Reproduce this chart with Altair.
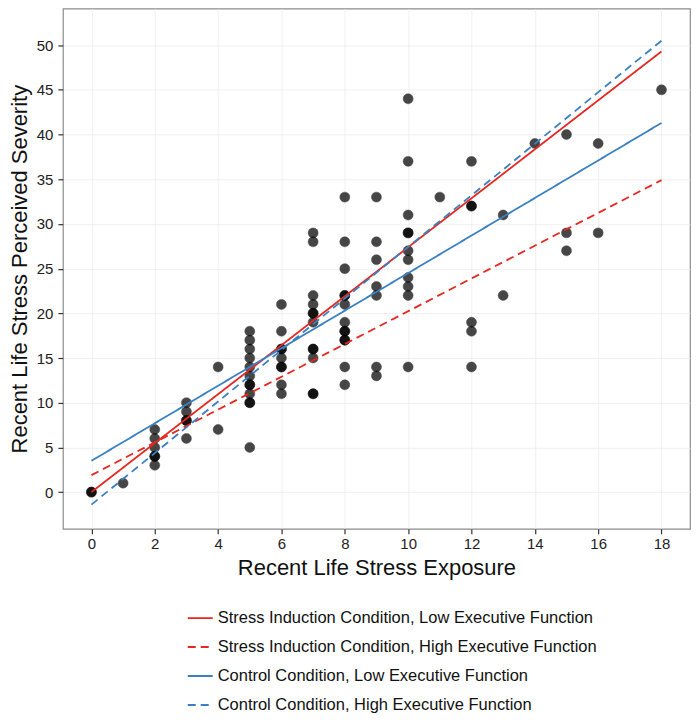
import altair as alt
import pandas as pd

FONT = "Liberation Sans, Arial, Helvetica, sans-serif"

# Scatter data
exposure = [0, 0, 1, 2, 2, 2, 2, 2, 2, 3, 3, 3, 3, 3, 4, 4,
            5, 5, 5, 5, 5, 5, 5, 5, 5, 5, 5, 5,
            6, 6, 6, 6, 6, 6, 6, 6, 6,
            7, 7, 7, 7, 7, 7, 7, 7, 7, 7, 7, 7,
            8, 8, 8, 8, 8, 8, 8, 8, 8, 8, 8, 8, 8,
            9, 9, 9, 9, 9, 9, 9,
            10, 10, 10, 10, 10, 10, 10, 10, 10, 10, 10,
            11, 12, 12, 12, 12, 12, 12, 13, 13, 14, 15, 15, 15, 16, 16, 18]
severity = [0, 0, 1, 7, 6, 5, 4, 4, 3, 10, 9, 8, 8, 6, 14, 7,
            18, 17, 16, 15, 14, 13, 12, 12, 11, 10, 10, 5,
            21, 18, 16, 16, 15, 14, 14, 12, 11,
            29, 28, 22, 21, 20, 20, 19, 16, 16, 15, 11, 11,
            33, 28, 25, 22, 22, 21, 19, 18, 18, 17, 17, 14, 12,
            33, 28, 26, 23, 22, 14, 13,
            44, 37, 31, 29, 29, 27, 26, 24, 23, 22, 14,
            33, 37, 32, 32, 19, 18, 14, 31, 22, 39, 40, 29, 27, 39, 29, 45]

# Regression lines
series = [
    "Stress Induction Condition, Low Executive Function",
    "Stress Induction Condition, High Executive Function",
    "Control Condition, Low Executive Function",
    "Control Condition, High Executive Function",
]
line_x = [0, 18]
line_start = [0.0, 1.9, 3.5, -1.4]
line_end = [49.3, 34.9, 41.3, 50.5]
colors = ["#E6261F", "#E6261F", "#3A80C3", "#3A80C3"]
dashes = [[1, 0], [8, 5], [1, 0], [8, 5]]

# Axis ticks (major labelled, minor grid only)
x_ticks = list(range(0, 19, 2))
x_grid = list(range(0, 19))
y_ticks = list(range(0, 51, 5))
y_grid = [i * 2.5 for i in range(0, 22)]

pts = pd.DataFrame({"exposure": exposure, "severity": severity})
rows = []
for s, a, b in zip(series, line_start, line_end):
    rows.append({"series": s, "x": line_x[0], "y": a})
    rows.append({"series": s, "x": line_x[1], "y": b})
ldf = pd.DataFrame(rows)

x_scale = alt.Scale(domain=[-0.9, 18.9], nice=False, zero=False)
y_scale = alt.Scale(domain=[-4.1, 54.1], nice=False, zero=False)

x_axis = alt.Axis(
    title="Recent Life Stress Exposure",
    values=x_grid,
    labelExpr="datum.value % 2 === 0 ? datum.label : ''",
    tickOpacity={"condition": {"test": "datum.value % 2 !== 0", "value": 0}, "value": 1},
    labelOverlap=False,
    labelPadding=3,
    titlePadding=6,
)
y_axis = alt.Axis(
    title="Recent Life Stress Perceived Severity",
    values=y_grid,
    labelExpr="datum.value % 5 === 0 ? datum.label : ''",
    tickOpacity={"condition": {"test": "datum.value % 5 !== 0", "value": 0}, "value": 1},
    labelOverlap=False,
    labelPadding=5,
    titlePadding=5,
)

points = alt.Chart(pts).mark_circle(
    size=100, color="black", opacity=0.72, stroke="black", strokeWidth=0.5
).encode(
    x=alt.X("exposure:Q", scale=x_scale, axis=x_axis),
    y=alt.Y("severity:Q", scale=y_scale, axis=y_axis),
)

leg = alt.Legend(
    title=None,
    orient="none",
    legendX=124,
    legendY=597,
    direction="vertical",
    symbolType="stroke",
    symbolSize=625,
    symbolStrokeWidth=2,
    labelFont=FONT,
    labelFontSize=16.5,
    labelColor="#111111",
    labelLimit=700,
    labelOffset=4,
    rowPadding=7,
    padding=0,
)

lines = alt.Chart(ldf).mark_line(strokeWidth=1.8).encode(
    x=alt.X("x:Q", scale=x_scale),
    y=alt.Y("y:Q", scale=y_scale),
    color=alt.Color("series:N", scale=alt.Scale(domain=series, range=colors), legend=leg),
    strokeDash=alt.StrokeDash("series:N", scale=alt.Scale(domain=series, range=dashes), legend=leg),
)

chart = alt.layer(points, lines).properties(
    width=628,
    height=521,
    padding={"left": 0, "top": 0, "right": 2, "bottom": 0},
).configure_view(
    stroke="#8c8c8c", strokeWidth=1.2
).configure_axis(
    domain=False,
    grid=True,
    gridColor="#ECECEC",
    gridWidth=0.8,
    tickColor="#333333",
    tickWidth=1.2,
    tickSize=5,
    labelFont=FONT,
    labelFontSize=15,
    labelColor="#222222",
    titleFont=FONT,
    titleFontSize=22,
    titleFontWeight="normal",
    titleColor="#111111",
)

chart.save("out.html", embed_options={"renderer": "svg", "actions": False})
